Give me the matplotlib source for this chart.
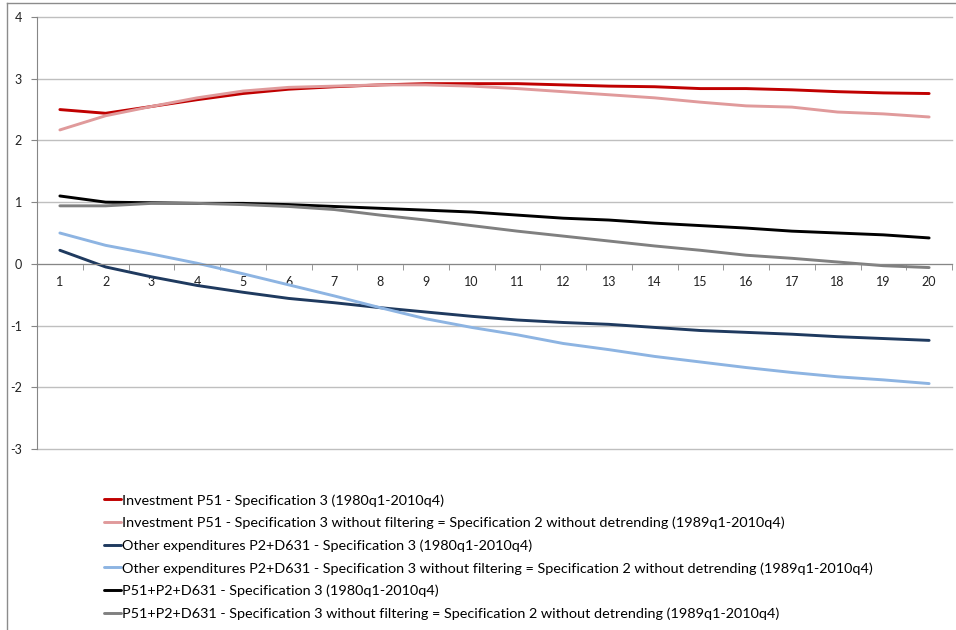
import matplotlib
matplotlib.use("Agg")
import matplotlib.pyplot as plt
from matplotlib.lines import Line2D

horizons = list(range(1, 21))

inv_spec3 = [2.50, 2.44, 2.55, 2.66, 2.76, 2.83, 2.87, 2.90, 2.92, 2.92,
             2.92, 2.90, 2.88, 2.87, 2.84, 2.84, 2.82, 2.79, 2.77, 2.76]
inv_nofilt = [2.17, 2.40, 2.55, 2.69, 2.80, 2.86, 2.88, 2.90, 2.90, 2.88,
              2.84, 2.79, 2.74, 2.69, 2.62, 2.56, 2.54, 2.46, 2.43, 2.38]
oth_spec3 = [0.22, -0.05, -0.21, -0.35, -0.46, -0.56, -0.63, -0.71, -0.78, -0.85,
             -0.91, -0.95, -0.98, -1.03, -1.08, -1.11, -1.14, -1.18, -1.21, -1.24]
oth_nofilt = [0.50, 0.30, 0.16, 0.01, -0.16, -0.34, -0.52, -0.71, -0.89, -1.03,
              -1.15, -1.29, -1.39, -1.50, -1.59, -1.68, -1.76, -1.83, -1.88, -1.94]
tot_spec3 = [1.10, 1.00, 0.99, 0.98, 0.98, 0.96, 0.93, 0.90, 0.87, 0.84,
             0.79, 0.74, 0.71, 0.66, 0.62, 0.58, 0.53, 0.50, 0.47, 0.42]
tot_nofilt = [0.94, 0.94, 0.98, 0.98, 0.96, 0.93, 0.88, 0.79, 0.71, 0.62,
              0.53, 0.45, 0.37, 0.29, 0.22, 0.14, 0.09, 0.03, -0.03, -0.06]

labels = [
    "Investment P51 - Specification 3 (1980q1-2010q4)",
    "Investment P51 - Specification 3 without filtering = Specification 2 without detrending (1989q1-2010q4)",
    "Other expenditures P2+D631 - Specification 3 (1980q1-2010q4)",
    "Other expenditures P2+D631 - Specification 3 without filtering = Specification 2 without detrending (1989q1-2010q4)",
    "P51+P2+D631 - Specification 3 (1980q1-2010q4)",
    "P51+P2+D631 - Specification 3 without filtering = Specification 2 without detrending (1989q1-2010q4)",
]
series = [inv_spec3, inv_nofilt, oth_spec3, oth_nofilt, tot_spec3, tot_nofilt]
colors = ["#C00000", "#E09A9B", "#1F3A5F", "#8DB4E2", "#000000", "#808080"]

plt.rcParams['font.family'] = ['Lato', 'DejaVu Sans']
plt.rcParams['axes.unicode_minus'] = False

fig = plt.figure(figsize=(9.56, 6.3), dpi=100)
ax = fig.add_axes([37/956, 1-449/630, (952-37)/956, (449-17)/630])

for y, c, lab in zip(series, colors, labels):
    ax.plot(horizons, y, color=c, lw=2.1, label=lab, solid_capstyle='round')

ax.set_xlim(0.5, 20.5)
ax.set_ylim(-3, 4)
ax.set_yticks(range(-3, 5))
ax.yaxis.grid(True, color="#BFBFBF", lw=1)
for gl in ax.get_ygridlines():
    gl.set_clip_on(False)
ax.set_axisbelow(True)
for s in ['top', 'right']:
    ax.spines[s].set_visible(False)
ax.spines['left'].set_color("#868686")
ax.spines['bottom'].set_color("#868686")
ax.spines['bottom'].set_position(('data', 0))
ax.set_xticks(horizons)
ax.set_xticks([h + 0.5 for h in horizons[:-1]] + [0.5, 20.5], minor=True)
ax.tick_params(axis='x', which='major', length=0, pad=9, labelsize=9, labelcolor="#222222")
ax.tick_params(axis='x', which='minor', length=4, color="#868686", direction='out')
ax.tick_params(axis='y', length=4, color="#868686", pad=7, labelsize=9, labelcolor="#222222")

leg = fig.legend(loc='upper left', bbox_to_anchor=(104/956, 1-494/630),
                 frameon=False, fontsize=10.4, handlelength=1.15, handletextpad=0.1,
                 labelspacing=0.7, borderpad=0, borderaxespad=0)

fig.add_artist(Line2D([7/956, 1.01], [1-3/630, 1-3/630], color="#8C8C8C", lw=1))
fig.add_artist(Line2D([7/956, 7/956], [1-3/630, -0.01], color="#8C8C8C", lw=1))

fig.savefig("out.png", dpi=100)
